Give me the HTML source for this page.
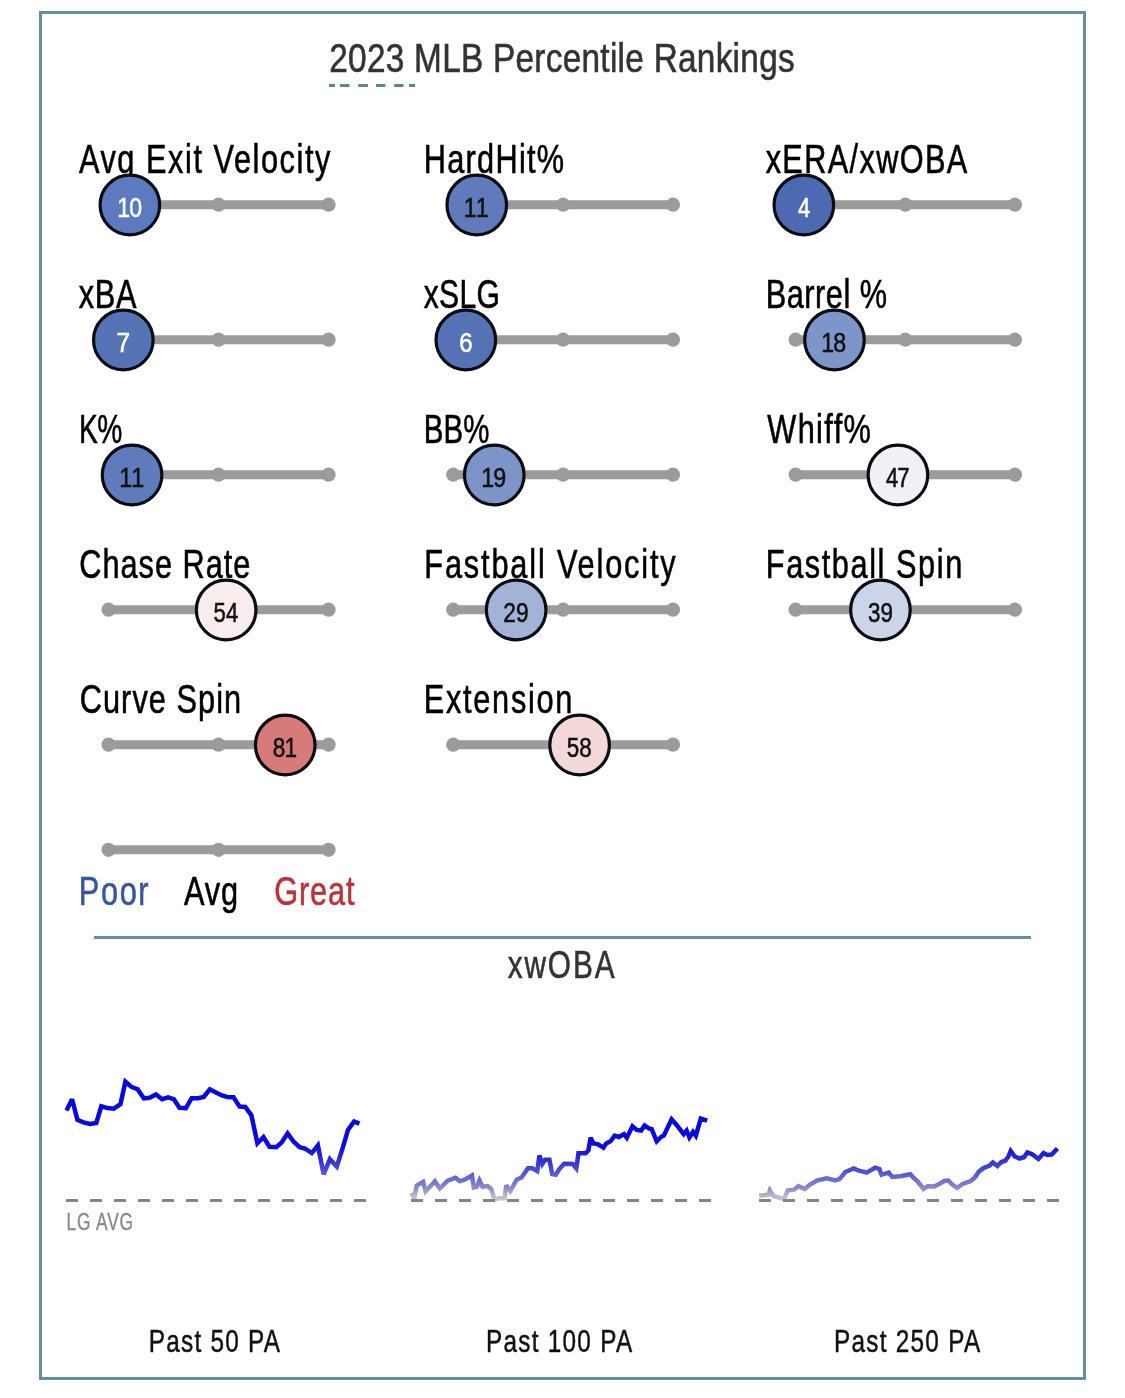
<!DOCTYPE html>
<html><head><meta charset="utf-8"><style>html,body{margin:0;padding:0;background:#fff;overflow:hidden}svg{display:block;will-change:transform}</style></head><body>
<svg width="1125" height="1398" viewBox="0 0 1125 1398" font-family="Liberation Sans, sans-serif">
<rect x="0" y="0" width="1125" height="1398" fill="#fff"/>
<rect x="40.5" y="12.5" width="1044" height="1366" fill="none" stroke="#66909c" stroke-width="3"/>
<text transform="scale(0.8249643001663275,1)" x="399.110" y="72.00" font-size="40.4" fill="#333" textLength="564.107" lengthAdjust="spacing" stroke="#333" stroke-width="0.60">2023 MLB Percentile Rankings</text>
<rect x="329" y="84" width="6.0" height="3" fill="#5e8794"/>
<rect x="340" y="84" width="9.5" height="3" fill="#5e8794"/>
<rect x="358.3" y="84" width="9.7" height="3" fill="#5e8794"/>
<rect x="376" y="84" width="9.3" height="3" fill="#5e8794"/>
<rect x="394.2" y="84" width="9.3" height="3" fill="#5e8794"/>
<rect x="409" y="84" width="6.2" height="3" fill="#5e8794"/>
<text transform="scale(0.76,1)" x="103.868" y="172.90" font-size="40.4" fill="#000" textLength="330.826" lengthAdjust="spacing" stroke="#000" stroke-width="0.60">Avg Exit Velocity</text>
<text transform="scale(0.76,1)" x="557.641" y="172.90" font-size="40.4" fill="#000" textLength="184.585" lengthAdjust="spacing" stroke="#000" stroke-width="0.60">HardHit%</text>
<text transform="scale(0.76,1)" x="1007.441" y="172.90" font-size="40.4" fill="#000" textLength="265.380" lengthAdjust="spacing" stroke="#000" stroke-width="0.60">xERA/xwOBA</text>
<text transform="scale(0.76,1)" x="103.494" y="307.90" font-size="40.4" fill="#000" textLength="76.146" lengthAdjust="spacing" stroke="#000" stroke-width="0.60">xBA</text>
<text transform="scale(0.743279697965753,1)" x="569.991" y="307.90" font-size="40.4" fill="#000" textLength="102.569" lengthAdjust="spacing" stroke="#000" stroke-width="0.60">xSLG</text>
<text transform="scale(0.76,1)" x="1007.679" y="307.90" font-size="40.4" fill="#000" textLength="159.476" lengthAdjust="spacing" stroke="#000" stroke-width="0.60">Barrel %</text>
<text transform="scale(0.6964532542867321,1)" x="113.334" y="442.90" font-size="40.4" fill="#000" textLength="62.091" lengthAdjust="spacing" stroke="#000" stroke-width="0.60">K%</text>
<text transform="scale(0.7281368136813681,1)" x="582.129" y="442.90" font-size="40.4" fill="#000" textLength="89.944" lengthAdjust="spacing" stroke="#000" stroke-width="0.60">BB%</text>
<text transform="scale(0.76,1)" x="1009.653" y="442.90" font-size="40.4" fill="#000" textLength="136.216" lengthAdjust="spacing" stroke="#000" stroke-width="0.60">Whiff%</text>
<text transform="scale(0.76,1)" x="104.337" y="577.90" font-size="40.4" fill="#000" textLength="225.069" lengthAdjust="spacing" stroke="#000" stroke-width="0.60">Chase Rate</text>
<text transform="scale(0.76,1)" x="558.337" y="577.90" font-size="40.4" fill="#000" textLength="330.654" lengthAdjust="spacing" stroke="#000" stroke-width="0.60">Fastball Velocity</text>
<text transform="scale(0.76,1)" x="1007.679" y="577.90" font-size="40.4" fill="#000" textLength="258.413" lengthAdjust="spacing" stroke="#000" stroke-width="0.60">Fastball Spin</text>
<text transform="scale(0.76,1)" x="104.956" y="712.90" font-size="40.4" fill="#000" textLength="212.340" lengthAdjust="spacing" stroke="#000" stroke-width="0.60">Curve Spin</text>
<text transform="scale(0.76,1)" x="557.641" y="712.90" font-size="40.4" fill="#000" textLength="195.452" lengthAdjust="spacing" stroke="#000" stroke-width="0.60">Extension</text>
<line x1="108.5" y1="204.7" x2="328.6" y2="204.7" stroke="#9b9b9b" stroke-width="9"/>
<circle cx="108.50" cy="204.7" r="7.1" fill="#9b9b9b"/>
<circle cx="218.55" cy="204.7" r="7.1" fill="#9b9b9b"/>
<circle cx="328.60" cy="204.7" r="7.1" fill="#9b9b9b"/>
<circle cx="129.88" cy="205.00" r="29.8" fill="#5c7abd" stroke="#0c0c14" stroke-width="3.2"/>
<text transform="scale(0.8429806186864174,1)" x="139.188" y="216.80" font-size="27.4" fill="#fff" textLength="29.342" lengthAdjust="spacing" stroke="#fff" stroke-width="0.55">10</text>
<line x1="453.2" y1="204.7" x2="673" y2="204.7" stroke="#9b9b9b" stroke-width="9"/>
<circle cx="453.20" cy="204.7" r="7.1" fill="#9b9b9b"/>
<circle cx="563.10" cy="204.7" r="7.1" fill="#9b9b9b"/>
<circle cx="673.00" cy="204.7" r="7.1" fill="#9b9b9b"/>
<circle cx="476.77" cy="205.00" r="29.8" fill="#5f7bbb" stroke="#0c0c14" stroke-width="3.2"/>
<text transform="scale(0.8513187059137806,1)" x="544.784" y="216.80" font-size="27.4" fill="#111" textLength="29.331" lengthAdjust="spacing" stroke="#111" stroke-width="0.55">11</text>
<line x1="795.6" y1="204.7" x2="1015" y2="204.7" stroke="#9b9b9b" stroke-width="9"/>
<circle cx="795.60" cy="204.7" r="7.1" fill="#9b9b9b"/>
<circle cx="905.30" cy="204.7" r="7.1" fill="#9b9b9b"/>
<circle cx="1015.00" cy="204.7" r="7.1" fill="#9b9b9b"/>
<circle cx="803.85" cy="205.00" r="29.8" fill="#4d6ab1" stroke="#0c0c14" stroke-width="3.2"/>
<text transform="scale(0.8020551123182224,1)" x="994.901" y="216.80" font-size="27.4" fill="#fff" textLength="10.120" lengthAdjust="spacing" stroke="#fff" stroke-width="0.55">4</text>
<line x1="108.5" y1="339.7" x2="328.6" y2="339.7" stroke="#9b9b9b" stroke-width="9"/>
<circle cx="108.50" cy="339.7" r="7.1" fill="#9b9b9b"/>
<circle cx="218.55" cy="339.7" r="7.1" fill="#9b9b9b"/>
<circle cx="328.60" cy="339.7" r="7.1" fill="#9b9b9b"/>
<circle cx="123.32" cy="340.00" r="29.8" fill="#5673b6" stroke="#0c0c14" stroke-width="3.2"/>
<text transform="scale(0.8890664617748752,1)" x="131.128" y="351.80" font-size="27.4" fill="#fff" textLength="11.218" lengthAdjust="spacing" stroke="#fff" stroke-width="0.55">7</text>
<line x1="453.2" y1="339.7" x2="673" y2="339.7" stroke="#9b9b9b" stroke-width="9"/>
<circle cx="453.20" cy="339.7" r="7.1" fill="#9b9b9b"/>
<circle cx="563.10" cy="339.7" r="7.1" fill="#9b9b9b"/>
<circle cx="673.00" cy="339.7" r="7.1" fill="#9b9b9b"/>
<circle cx="465.83" cy="340.00" r="29.8" fill="#5572b5" stroke="#0c0c14" stroke-width="3.2"/>
<text transform="scale(0.8758951067856142,1)" x="524.226" y="351.80" font-size="27.4" fill="#fff" textLength="11.222" lengthAdjust="spacing" stroke="#fff" stroke-width="0.55">6</text>
<line x1="795.6" y1="339.7" x2="1015" y2="339.7" stroke="#9b9b9b" stroke-width="9"/>
<circle cx="795.60" cy="339.7" r="7.1" fill="#9b9b9b"/>
<circle cx="905.30" cy="339.7" r="7.1" fill="#9b9b9b"/>
<circle cx="1015.00" cy="339.7" r="7.1" fill="#9b9b9b"/>
<circle cx="834.48" cy="340.00" r="29.8" fill="#7e95ca" stroke="#0c0c14" stroke-width="3.2"/>
<text transform="scale(0.8467124561523189,1)" x="970.078" y="351.80" font-size="27.4" fill="#111" textLength="29.337" lengthAdjust="spacing" stroke="#111" stroke-width="0.55">18</text>
<line x1="108.5" y1="474.7" x2="328.6" y2="474.7" stroke="#9b9b9b" stroke-width="9"/>
<circle cx="108.50" cy="474.7" r="7.1" fill="#9b9b9b"/>
<circle cx="218.55" cy="474.7" r="7.1" fill="#9b9b9b"/>
<circle cx="328.60" cy="474.7" r="7.1" fill="#9b9b9b"/>
<circle cx="132.07" cy="475.00" r="29.8" fill="#5f7bbb" stroke="#0c0c14" stroke-width="3.2"/>
<text transform="scale(0.8513187059137806,1)" x="140.108" y="486.80" font-size="27.4" fill="#111" textLength="29.331" lengthAdjust="spacing" stroke="#111" stroke-width="0.55">11</text>
<line x1="453.2" y1="474.7" x2="673" y2="474.7" stroke="#9b9b9b" stroke-width="9"/>
<circle cx="453.20" cy="474.7" r="7.1" fill="#9b9b9b"/>
<circle cx="563.10" cy="474.7" r="7.1" fill="#9b9b9b"/>
<circle cx="673.00" cy="474.7" r="7.1" fill="#9b9b9b"/>
<circle cx="494.27" cy="475.00" r="29.8" fill="#7d94c8" stroke="#0c0c14" stroke-width="3.2"/>
<text transform="scale(0.8500574930161305,1)" x="566.204" y="486.80" font-size="27.4" fill="#111" textLength="29.333" lengthAdjust="spacing" stroke="#111" stroke-width="0.55">19</text>
<line x1="795.6" y1="474.7" x2="1015" y2="474.7" stroke="#9b9b9b" stroke-width="9"/>
<circle cx="795.60" cy="474.7" r="7.1" fill="#9b9b9b"/>
<circle cx="905.30" cy="474.7" r="7.1" fill="#9b9b9b"/>
<circle cx="1015.00" cy="474.7" r="7.1" fill="#9b9b9b"/>
<circle cx="897.94" cy="475.00" r="29.8" fill="#f0f1f7" stroke="#0c0c14" stroke-width="3.2"/>
<text transform="scale(0.8089127929312333,1)" x="1095.162" y="486.80" font-size="27.4" fill="#111" textLength="29.389" lengthAdjust="spacing" stroke="#111" stroke-width="0.55">47</text>
<line x1="108.5" y1="609.7" x2="328.6" y2="609.7" stroke="#9b9b9b" stroke-width="9"/>
<circle cx="108.50" cy="609.7" r="7.1" fill="#9b9b9b"/>
<circle cx="218.55" cy="609.7" r="7.1" fill="#9b9b9b"/>
<circle cx="328.60" cy="609.7" r="7.1" fill="#9b9b9b"/>
<circle cx="226.15" cy="610.00" r="29.8" fill="#f8ecec" stroke="#0c0c14" stroke-width="3.2"/>
<text transform="scale(0.8058831570026519,1)" x="265.059" y="621.80" font-size="27.4" fill="#111" textLength="30.519" lengthAdjust="spacing" stroke="#111" stroke-width="0.55">54</text>
<line x1="453.2" y1="609.7" x2="673" y2="609.7" stroke="#9b9b9b" stroke-width="9"/>
<circle cx="453.20" cy="609.7" r="7.1" fill="#9b9b9b"/>
<circle cx="563.10" cy="609.7" r="7.1" fill="#9b9b9b"/>
<circle cx="673.00" cy="609.7" r="7.1" fill="#9b9b9b"/>
<circle cx="516.15" cy="610.00" r="29.8" fill="#a3b3d8" stroke="#0c0c14" stroke-width="3.2"/>
<text transform="scale(0.8283765271211089,1)" x="607.640" y="621.80" font-size="27.4" fill="#111" textLength="30.487" lengthAdjust="spacing" stroke="#111" stroke-width="0.55">29</text>
<line x1="795.6" y1="609.7" x2="1015" y2="609.7" stroke="#9b9b9b" stroke-width="9"/>
<circle cx="795.60" cy="609.7" r="7.1" fill="#9b9b9b"/>
<circle cx="905.30" cy="609.7" r="7.1" fill="#9b9b9b"/>
<circle cx="1015.00" cy="609.7" r="7.1" fill="#9b9b9b"/>
<circle cx="880.43" cy="610.00" r="29.8" fill="#cbd4e9" stroke="#0c0c14" stroke-width="3.2"/>
<text transform="scale(0.8185289697373582,1)" x="1060.475" y="621.80" font-size="27.4" fill="#111" textLength="30.501" lengthAdjust="spacing" stroke="#111" stroke-width="0.55">39</text>
<line x1="108.5" y1="744.7" x2="328.6" y2="744.7" stroke="#9b9b9b" stroke-width="9"/>
<circle cx="108.50" cy="744.7" r="7.1" fill="#9b9b9b"/>
<circle cx="218.55" cy="744.7" r="7.1" fill="#9b9b9b"/>
<circle cx="328.60" cy="744.7" r="7.1" fill="#9b9b9b"/>
<circle cx="285.23" cy="745.00" r="29.8" fill="#d77a7a" stroke="#0c0c14" stroke-width="3.2"/>
<text transform="scale(0.8240145635986904,1)" x="331.149" y="756.80" font-size="27.4" fill="#111" textLength="29.368" lengthAdjust="spacing" stroke="#111" stroke-width="0.55">81</text>
<line x1="453.2" y1="744.7" x2="673" y2="744.7" stroke="#9b9b9b" stroke-width="9"/>
<circle cx="453.20" cy="744.7" r="7.1" fill="#9b9b9b"/>
<circle cx="563.10" cy="744.7" r="7.1" fill="#9b9b9b"/>
<circle cx="673.00" cy="744.7" r="7.1" fill="#9b9b9b"/>
<circle cx="579.60" cy="745.00" r="29.8" fill="#f3d8d8" stroke="#0c0c14" stroke-width="3.2"/>
<text transform="scale(0.8169750466813784,1)" x="693.867" y="756.80" font-size="27.4" fill="#111" textLength="30.503" lengthAdjust="spacing" stroke="#111" stroke-width="0.55">58</text>
<line x1="108.5" y1="849.8" x2="328.6" y2="849.8" stroke="#9b9b9b" stroke-width="9"/>
<circle cx="108.50" cy="849.8" r="7.1" fill="#9b9b9b"/>
<circle cx="218.55" cy="849.8" r="7.1" fill="#9b9b9b"/>
<circle cx="328.60" cy="849.8" r="7.1" fill="#9b9b9b"/>
<text transform="scale(0.76,1)" x="103.770" y="904.90" font-size="40.4" fill="#38569f" textLength="91.666" lengthAdjust="spacing" stroke="#38569f" stroke-width="0.60">Poor</text>
<text transform="scale(0.76,1)" x="242.026" y="904.90" font-size="40.4" fill="#000" textLength="71.402" lengthAdjust="spacing" stroke="#000" stroke-width="0.60">Avg</text>
<text transform="scale(0.76,1)" x="360.973" y="904.90" font-size="40.4" fill="#b5353a" textLength="105.438" lengthAdjust="spacing" stroke="#b5353a" stroke-width="0.60">Great</text>
<rect x="94" y="936" width="937" height="3" fill="#66909c"/>
<text transform="scale(0.76,1)" x="667.981" y="977.60" font-size="39.2" fill="#333" textLength="140.689" lengthAdjust="spacing" stroke="#333" stroke-width="0.58">xwOBA</text>
<defs><linearGradient id="lg" gradientUnits="userSpaceOnUse" x1="0" y1="1200" x2="0" y2="1130"><stop offset="0" stop-color="#c8c8cc"/><stop offset="0.071" stop-color="#b4b4c8"/><stop offset="0.171" stop-color="#8c8cc8"/><stop offset="0.286" stop-color="#7070cc"/><stop offset="0.414" stop-color="#5050d0"/><stop offset="0.571" stop-color="#3030d0"/><stop offset="0.743" stop-color="#1010d8"/><stop offset="1" stop-color="#0808dc"/></linearGradient></defs>
<polyline points="66.5,1110.5 72.1,1099.2 77.4,1119.8 83.5,1122.3 89.9,1124 96.3,1122.9 101.3,1106.3 107.7,1108.1 113.8,1108.7 120.5,1104.1 125.4,1081.7 131.8,1087.1 137.5,1089.2 143.9,1098.4 149.6,1097.7 156,1094.5 162.1,1099.2 168.1,1097.3 173.8,1099.2 179.5,1107.7 185.9,1108.1 191.6,1098.2 198,1098.2 203.8,1096.9 209.8,1089.3 215.9,1092.4 221.9,1095.4 227.2,1096.9 233.5,1097.2 239.6,1106.6 245.3,1107 251.4,1115.3 257.4,1143.3 263.5,1137.2 269.5,1146.8 276.3,1147.1 281.6,1142.5 287.6,1133.5 293.7,1141.8 299.7,1147.1 305,1148.6 311.8,1153.1 317.9,1145.5 323.6,1174.3 329.9,1159.2 336.8,1166.7 342,1150.1 348.1,1129.7 354.1,1121.4 359.4,1123.6" fill="none" stroke="url(#lg)" stroke-width="4.5" stroke-linejoin="miter" stroke-miterlimit="2.5"/>
<polyline points="411.5,1193 414.2,1198.5 416.7,1185.6 423.1,1182 425.6,1191.5 434.9,1181.3 439.8,1188.5 447.7,1180.6 455.5,1177.8 459.8,1181.3 464.7,1179.7 471.9,1175.6 473.8,1187.5 476.8,1186.8 479.5,1180.5 482.5,1186.8 487.5,1186.1 491.1,1188.9 494.6,1199.6 499.6,1198.2 504.6,1198.2 506.3,1185.3 510.3,1191 516.7,1179.7 521.6,1177.5 528,1168.3 532.3,1168.3 537.3,1171.1 539.4,1155.5 542.3,1164 545.1,1159.7 549.4,1159.7 552.2,1174 555.8,1174.7 559.3,1169 564.2,1163.7 572.8,1164 576.3,1168.3 578.5,1153.3 585.6,1153.3 588.4,1150.5 590.6,1137.7 593.4,1143.4 597.7,1144.1 603.4,1147.7 606.2,1143.4 610.5,1141.3 614.7,1135.6 619,1137 624,1134.1 626.8,1137.7 632.5,1126.3 636.8,1129.9 641.1,1130.6 644.6,1125.6 648.9,1128.4 651.7,1129.2 656.7,1141.3 661,1137 663.8,1135.6 671.6,1119.2 676.6,1124.9 683.7,1134.1 686.6,1130.6 689.4,1137.5 693,1132 695.8,1135.7 700.8,1118.5 707.2,1120.6" fill="none" stroke="url(#lg)" stroke-width="4.5" stroke-linejoin="miter" stroke-miterlimit="2.5"/>
<polyline points="759.2,1195.7 768.5,1194.7 769.9,1190.5 773.5,1196.1 784.1,1199.2 787.7,1190.5 794.1,1189.7 798.4,1186.2 804.8,1189 809.7,1184.8 816.9,1180.5 826.8,1178.4 835.3,1180.5 839.6,1179.1 845.3,1172 853.8,1168.4 858.1,1170.5 866.6,1172.7 875.2,1167.7 879.4,1169.1 881.6,1174.8 888.7,1172.7 892.2,1176.9 900.8,1176.2 910.2,1174.2 913.8,1178 917.3,1181 923.6,1189 928,1186.2 934.2,1186.5 940.2,1183.5 944.2,1181 948.3,1180.5 952.3,1184.5 957,1188 962.7,1184 970.8,1181 974.9,1177.4 978.9,1171.6 983.5,1168.1 989.3,1165.8 992.8,1162.5 997.4,1166 1001.4,1162 1005.5,1160.6 1008.4,1156.5 1010.7,1151 1014.7,1156.5 1019.4,1158.5 1024,1157.2 1027.4,1152.5 1032.1,1154.3 1038.4,1159 1043.6,1153 1047.1,1155 1051.7,1154.5 1057.5,1148.5" fill="none" stroke="url(#lg)" stroke-width="4.5" stroke-linejoin="miter" stroke-miterlimit="2.5"/>
<line x1="66" y1="1200.5" x2="366" y2="1200.5" stroke="#858585" stroke-width="3" stroke-dasharray="12 12"/>
<line x1="411" y1="1200.5" x2="711" y2="1200.5" stroke="#858585" stroke-width="3" stroke-dasharray="12 12"/>
<line x1="759" y1="1200.5" x2="1059" y2="1200.5" stroke="#858585" stroke-width="3" stroke-dasharray="12 12"/>
<text transform="scale(0.72,1)" x="92.309" y="1229.80" font-size="24.1" fill="#888" textLength="92.560" lengthAdjust="spacing" stroke="#888" stroke-width="0.36">LG AVG</text>
<text transform="scale(0.76,1)" x="195.868" y="1352.00" font-size="32" fill="#111" textLength="172.478" lengthAdjust="spacing" stroke="#111" stroke-width="0.48">Past 50 PA</text>
<text transform="scale(0.76,1)" x="639.366" y="1352.00" font-size="32" fill="#111" textLength="192.384" lengthAdjust="spacing" stroke="#111" stroke-width="0.48">Past 100 PA</text>
<text transform="scale(0.76,1)" x="1097.299" y="1352.00" font-size="32" fill="#111" textLength="192.320" lengthAdjust="spacing" stroke="#111" stroke-width="0.48">Past 250 PA</text>
</svg>
</body></html>
